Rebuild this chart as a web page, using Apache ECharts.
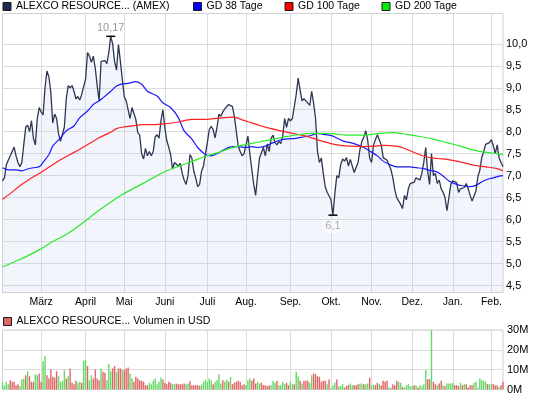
<!DOCTYPE html>
<html><head><meta charset="utf-8">
<script src="https://cdn.jsdelivr.net/npm/echarts@6/dist/echarts.min.js"></script>
<style>html,body{margin:0;padding:0;background:#fff}#c{width:545px;height:398px}</style>
</head><body><div id="c"></div>
<script>
// ---- data ----
const startDate = '2011-01-31';
const endDate = '2012-02-09';
const holidays = ['2011-02-21','2011-04-22','2011-05-30','2011-07-04','2011-09-05','2011-11-24','2011-12-26','2012-01-02','2012-01-16'];
const monthNames = ['Jan.','Feb.','März','April','Mai','Juni','Juli','Aug.','Sep.','Okt.','Nov.','Dez.'];
const priceTicks = [4.5,5.0,5.5,6.0,6.5,7.0,7.5,8.0,8.5,9.0,9.5,10.0];
const volTicks = [0,10,20,30];

const price = [
6.88,6.95,7.25,7.35,7.33,7.55,7.65,7.45,7.3,7.2,
7.3,7.7,8.1,8.15,8.0,8.25,7.85,7.7,8.3,8.55,
8.45,8.38,9.0,9.38,9.25,8.9,8.2,8.4,8.3,7.95,
7.78,7.78,8.1,8.75,9.05,9.0,9.05,8.92,8.75,8.8,
8.72,8.85,8.82,9.2,9.8,9.72,9.58,9.72,9.45,9.05,
8.7,9.6,9.57,9.62,9.55,9.8,10.17,10.0,9.6,9.4,
9.98,9.6,9.2,8.8,8.7,8.5,8.3,8.55,8.55,8.28,
7.98,7.92,7.5,7.38,7.62,7.45,7.55,7.45,7.55,7.88,
7.93,7.85,8.25,8.5,8.1,7.8,7.65,7.48,7.15,7.3,
7.33,7.22,7.28,7.05,6.9,6.8,7.0,7.48,7.4,7.1,
6.95,6.75,6.8,7.1,7.22,7.25,7.75,8.05,8.12,8.05,
7.86,8.1,8.4,8.35,8.45,8.52,8.5,8.62,8.65,8.57,
8.35,8.0,7.67,7.55,7.45,7.5,7.5,7.9,7.5,7.15,
6.8,6.55,7.0,7.4,7.52,7.64,7.45,7.72,7.55,7.85,
7.92,7.75,7.7,7.78,7.73,7.9,8.3,8.1,8.3,8.25,
8.3,8.3,8.85,9.22,8.95,8.7,8.75,8.7,8.7,8.6,
8.92,8.65,8.3,7.55,7.3,7.4,7.05,6.75,6.62,6.65,
6.45,6.1,6.6,7.0,6.95,7.25,7.38,7.33,7.41,7.22,
7.37,7.35,7.07,7.05,7.3,7.6,7.78,7.88,8.02,7.8,
7.4,7.3,7.7,7.82,7.93,7.96,7.7,7.41,7.38,7.35,
7.25,7.14,6.95,6.68,6.5,6.5,6.35,6.25,6.55,6.45,
6.7,6.82,6.85,6.85,6.95,6.98,6.9,7.05,7.3,7.64,
7.1,6.8,7.5,7.0,7.05,6.82,6.9,6.7,6.62,6.5,
6.2,6.5,6.8,6.88,6.88,6.84,6.62,6.7,6.66,6.73,
6.82,6.7,6.55,6.42,6.4,6.65,6.98,7.12,7.41,7.55,
7.71,7.7,7.75,7.82,7.68,7.5,7.7,7.4,7.3,7.2
];

// moving averages: [trading-day index, value]
const ma38 = [[0,7.18],[3,7.13],[7,7.13],[10,7.11],[13,7.15],[16,7.18],[19,7.2],[21,7.3],[24,7.48],[26,7.67],[30,7.86],[33,8.02],[37,8.13],[40,8.32],[44,8.47],[47,8.62],[50,8.7],[52,8.77],[56,8.92],[59,9.04],[62,9.09],[65,9.1],[69,9.14],[72,9.08],[75,8.92],[80,8.81],[83,8.66],[87,8.55],[91,8.32],[94,8.02],[98,7.83],[101,7.64],[105,7.48],[108,7.45],[112,7.52],[115,7.6],[119,7.66],[122,7.66],[126,7.64],[129,7.66],[132,7.64],[136,7.67],[139,7.73],[143,7.8],[146,7.83],[150,7.84],[153,7.86],[157,7.89],[160,7.92],[163,7.96],[166,7.94],[169,7.92],[172,7.88],[176,7.79],[180,7.75],[183,7.71],[187,7.64],[190,7.56],[194,7.45],[197,7.33],[200,7.26],[204,7.2],[207,7.2],[211,7.2],[214,7.18],[218,7.16],[221,7.12],[225,7.08],[228,6.99],[231,6.88],[235,6.8],[238,6.77],[242,6.75],[244,6.76],[247,6.83],[250,6.9],[254,6.95],[257,6.99],[259,7.0]];
const ma100 = [[0,6.46],[4,6.59],[9,6.77],[14,6.92],[19,7.05],[25,7.22],[30,7.36],[35,7.48],[40,7.6],[45,7.73],[50,7.86],[56,7.99],[59,8.07],[63,8.11],[68,8.14],[73,8.16],[78,8.16],[84,8.18],[91,8.22],[98,8.28],[105,8.28],[112,8.31],[119,8.33],[121,8.32],[124,8.27],[129,8.2],[134,8.13],[139,8.07],[144,8.02],[150,7.96],[155,7.92],[160,7.86],[165,7.79],[170,7.73],[175,7.69],[180,7.67],[187,7.66],[192,7.67],[197,7.69],[204,7.67],[209,7.6],[214,7.51],[219,7.43],[225,7.39],[230,7.37],[235,7.33],[240,7.28],[245,7.23],[250,7.2],[256,7.16],[259,7.11]];
const ma200 = [[0,4.92],[9,5.09],[19,5.31],[26,5.5],[33,5.66],[42,5.94],[50,6.21],[62,6.57],[73,6.83],[84,7.09],[91,7.21],[98,7.32],[105,7.44],[112,7.53],[119,7.64],[125,7.7],[132,7.76],[139,7.82],[146,7.88],[153,7.93],[160,7.96],[167,7.96],[172,7.95],[178,7.92],[187,7.92],[195,7.96],[202,7.98],[209,7.94],[216,7.89],[223,7.83],[230,7.75],[237,7.67],[244,7.58],[249,7.54],[254,7.51],[259,7.48]];

// volume in millions USD, with day direction (g = up, r = down, n = unchanged)
const volume = [
3.4,2.2,3.9,2.7,4.7,3.9,3.9,2.2,2.7,1.7,
5.0,5.5,7.2,9.2,6.7,3.9,3.9,7.7,7.2,8.1,
3.9,14.3,16.8,7.2,5.5,10.1,6.4,6.0,9.2,6.7,
3.9,4.2,9.7,5.5,6.7,10.6,3.4,2.7,4.4,3.4,
3.9,3.4,14.5,14.8,11.8,4.7,7.2,5.5,10.1,5.5,
4.7,10.6,8.9,8.4,4.7,12.8,9.2,10.6,11.8,8.9,
10.6,10.6,10.1,9.7,10.6,11.1,8.1,5.5,3.9,6.4,
5.5,4.7,4.4,3.9,2.2,2.2,3.4,2.7,4.4,5.5,
2.7,3.9,6.0,5.0,3.4,2.7,3.9,3.4,2.7,2.7,
3.0,2.7,2.7,2.7,3.0,2.7,3.0,4.2,2.2,2.2,
2.2,2.2,1.8,2.5,4.0,5.0,
3.9,5.5,4.7,2.7,3.9,4.7,7.7,3.0,4.7,3.9,
5.0,3.9,6.4,2.7,3.4,3.9,4.4,3.9,2.2,2.7,
2.2,4.7,5.5,4.4,5.5,3.0,3.9,3.0,3.4,2.2,
2.2,1.7,2.2,2.2,4.4,3.4,4.4,2.2,2.2,3.9,
2.7,3.4,2.2,3.9,2.7,2.7,8.9,6.7,4.4,3.0,
4.4,4.4,4.4,3.4,7.2,8.1,7.7,6.7,6.4,3.9,
4.4,4.4,2.7,5.0,0.5,2.2,3.4,5.0,1.7,1.7,
2.7,1.0,1.7,2.2,3.0,2.2,2.2,2.2,2.7,3.0,
3.0,2.7,2.7,3.0,6.0,2.2,2.2,2.2,3.4,2.7,
2.2,4.4,3.9,4.4,1.0,1.0,2.7,2.2,4.4,3.9,
3.4,1.3,1.0,2.2,2.7,1.7,1.7,2.2,2.2,1.0,
2.2,1.7,2.7,9.7,5.2,5.2,30.0,3.9,2.7,2.2,
3.0,4.4,2.2,1.7,3.0,3.0,3.0,3.4,2.2,2.2,
1.7,3.4,2.2,2.7,2.7,1.0,2.2,2.2,3.4,3.9,
1.0,5.5,4.7,4.4,3.9,2.7,2.7,2.7,2.7,2.2,
2.2,1.3,2.2,3.9
];
const volDir = (
'ggggrrrrrg'+'ggrgrrrggr'+'rggrrrrrrg'+'gggrgrrrrg'+'grggrggrrr'+
'rgrrgggrrg'+'rrgrrrggrr'+'rrrrrrgggg'+'gggrrrrrgg'+'rrrrrggrrr'+
'rrrggg'+
'gggrggggrg'+'grgrrrrrrr'+'gggrrrggrr'+'rrrgggrggg'+'grrggrggrg'+
'rrrggrrrrr'+'rrgrgggrgg'+'grrrggrrrg'+'grggrggrrg'+
'rrrrggrrrg'+'grgggggrgr'+'ggggrrgrrg'+'rrgrggggrr'+'rgrgrrrrgg'+
'nggggrggrr'+'rgrr'
).split('');

// ---- build ----
function tradingDays(a, b, hol) {
  const out = [];
  let d = new Date(a + 'T00:00:00Z');
  const e = new Date(b + 'T00:00:00Z');
  while (d <= e) {
    const w = d.getUTCDay();
    const s = d.toISOString().slice(0, 10);
    if (w !== 0 && w !== 6 && hol.indexOf(s) < 0) out.push(s);
    d = new Date(d.getTime() + 86400000);
  }
  return out;
}
const dates = tradingDays(startDate, endDate, holidays);
const isMonthStart = (i) => i > 5 && dates[i].slice(5, 7) !== dates[i - 1].slice(5, 7);
const monthLabel = (v) => monthNames[parseInt(v.slice(5, 7), 10) - 1];
const dec = (v) => String(v).replace('.', ',');
const dirColor = { g: '#66d966', r: '#e06666', n: '#b0b0b0' };

const FONT = 'Liberation Sans, Arial, sans-serif';
const gridLine = '#dcdcdc';

const legendBase = {
  icon: 'rect', itemWidth: 8, itemHeight: 8, padding: 0,
  itemStyle: { borderColor: '#1a1a1a', borderWidth: 1 },
  textStyle: { fontSize: 10.5, color: '#000', fontFamily: FONT },
  selectedMode: false
};

const chart = echarts.init(document.getElementById('c'), null, { renderer: 'canvas' });
chart.setOption({
  animation: false,
  backgroundColor: '#fff',
  textStyle: { fontFamily: FONT },
  legend: [
    Object.assign({ data: ['ALEXCO RESOURCE... (AMEX)'], left: 2.5, top: 1 }, legendBase),
    Object.assign({ data: ['GD 38 Tage'], left: 193, top: 1 }, legendBase),
    Object.assign({ data: ['GD 100 Tage'], left: 284.5, top: 1 }, legendBase),
    Object.assign({ data: ['GD 200 Tage'], left: 381.5, top: 1 }, legendBase),
    Object.assign({ data: ['ALEXCO RESOURCE... Volumen in USD'], left: 3, top: 316 }, legendBase)
  ],
  grid: [
    { left: 2.5, right: 42, top: 13.5, height: 279, show: true, borderColor: '#d0d0d0', borderWidth: 1, backgroundColor: '#fff' },
    { left: 2.5, right: 42, top: 330, height: 59.5, show: true, borderColor: '#d0d0d0', borderWidth: 1, backgroundColor: '#fff' }
  ],
  xAxis: [
    {
      type: 'category', gridIndex: 0, data: dates, boundaryGap: false,
      axisLine: { show: false }, axisTick: { show: false },
      axisLabel: { interval: (i) => isMonthStart(i), formatter: monthLabel, fontSize: 10.5, color: '#000', margin: 4.5, fontFamily: FONT },
      splitLine: { show: true, interval: (i) => isMonthStart(i), lineStyle: { color: gridLine, width: 1 } }
    },
    {
      type: 'category', gridIndex: 1, data: dates, boundaryGap: false,
      axisLine: { show: false }, axisTick: { show: false }, axisLabel: { show: false },
      splitLine: { show: true, interval: (i) => isMonthStart(i), lineStyle: { color: gridLine, width: 1 } }
    }
  ],
  yAxis: [
    {
      type: 'value', gridIndex: 0, position: 'right', min: 4.34, max: 10.69,
      axisLine: { show: false }, axisTick: { show: false }, axisLabel: { show: false }, splitLine: { show: false }
    },
    {
      type: 'value', gridIndex: 1, position: 'right', min: volTicks[0], max: volTicks[volTicks.length - 1], interval: 10,
      axisLine: { show: false }, axisTick: { show: false },
      axisLabel: { formatter: (v) => v + 'M', fontSize: 11, color: '#000', margin: 4, fontFamily: FONT },
      splitLine: { show: true, lineStyle: { color: gridLine, width: 1 } }
    }
  ],
  series: [
    {
      name: 'ALEXCO RESOURCE... (AMEX)', type: 'line', xAxisIndex: 0, yAxisIndex: 0, z: 3,
      data: price, showSymbol: false, symbol: 'none',
      color: '#1e2a50',
      lineStyle: { color: '#2e3652', width: 1.3 },
      areaStyle: { color: 'rgba(190,202,238,0.26)', origin: 'start' },
      markLine: {
        silent: true, z: 1, symbol: ['none', 'none'],
        lineStyle: { color: gridLine, width: 1, type: 'solid' },
        label: { position: 'end', distance: 3, color: '#000', fontSize: 11, fontFamily: FONT, formatter: (p) => p.value.toFixed(1).replace('.', ',') },
        emphasis: { disabled: true },
        data: priceTicks.map((v) => ({ yAxis: v }))
      },
      markPoint: {
        silent: true, symbol: 'rect', symbolSize: [9, 1.5],
        itemStyle: { color: '#000' },
        data: [
          { type: 'max', label: { position: 'top', distance: 2, formatter: (p) => dec(p.value), color: '#999', fontSize: 11, fontFamily: FONT } },
          { type: 'min', label: { position: 'bottom', distance: 4, formatter: (p) => dec(p.value), color: '#aaa', fontSize: 11, fontFamily: FONT, backgroundColor: 'rgba(255,255,255,0.55)', padding: [1, 2] } }
        ]
      }
    },
    {
      name: 'GD 38 Tage', type: 'line', xAxisIndex: 0, yAxisIndex: 0, z: 4,
      data: ma38, showSymbol: false, symbol: 'none', smooth: 0.3, color: '#0000ff',
      lineStyle: { color: '#1a1aff', width: 1.2 }
    },
    {
      name: 'GD 100 Tage', type: 'line', xAxisIndex: 0, yAxisIndex: 0, z: 4,
      data: ma100, showSymbol: false, symbol: 'none', smooth: 0.3, color: '#ff0000',
      lineStyle: { color: '#ff2020', width: 1.2 }
    },
    {
      name: 'GD 200 Tage', type: 'line', xAxisIndex: 0, yAxisIndex: 0, z: 4,
      data: ma200, showSymbol: false, symbol: 'none', smooth: 0.3, color: '#00ee00',
      lineStyle: { color: '#2aea2a', width: 1.2 }
    },
    {
      name: 'ALEXCO RESOURCE... Volumen in USD', type: 'bar', xAxisIndex: 1, yAxisIndex: 1,
      barWidth: 1.4, color: '#e06666',
      data: volume.map((v, i) => ({ value: v, itemStyle: { color: dirColor[volDir[i]] || '#e06666' } }))
    }
  ]
});
</script>
</body></html>
